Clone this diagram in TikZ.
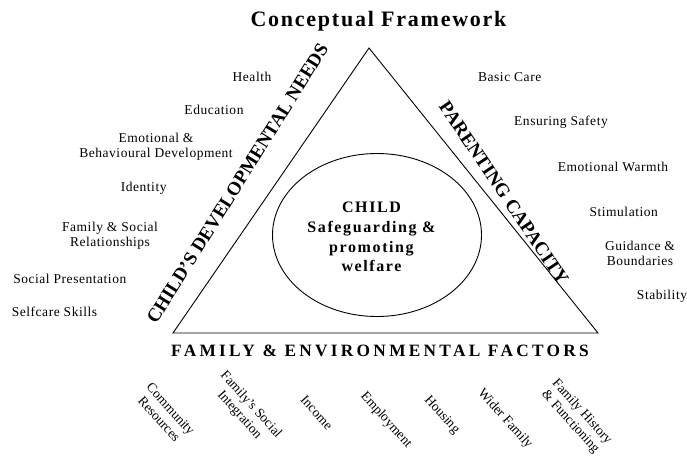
\documentclass[tikz,border=0pt]{standalone}
\usepackage{fontspec}
\setmainfont{Liberation Serif}
\newfontfamily\titlefont[LetterSpace=8]{Liberation Serif}
\newfontfamily\bottomfont[LetterSpace=19]{Liberation Serif}
\newfontfamily\centrefont[LetterSpace=10]{Liberation Serif}
\newfontfamily\itemfont[LetterSpace=4]{Liberation Serif}
\usetikzlibrary{shapes.geometric}
\tikzset{
  item/.style={inner sep=0pt, align=center, font=\itemfont\fontsize{13.5}{15.5}\selectfont},
  botitem/.style={inner sep=0pt, align=center, rotate=-48, font=\fontsize{13.5}{15.5}\selectfont},
  sidelabel/.style={inner sep=0pt, font=\bfseries\fontsize{19}{21}\selectfont},
  outline/.style={draw=black, line width=0.9pt}
}
\begin{document}
\begin{tikzpicture}[x=1pt,y=-1pt]
\useasboundingbox[fill=white] (0,0) rectangle (687,456);
% triangle
\coordinate (A) at (369,48);
\coordinate (B) at (173,333);
\coordinate (C) at (598,333);
\draw[outline, line join=miter] (A) -- (B) -- (C) -- cycle;
% ellipse
\node[outline, ellipse, minimum width=209, minimum height=163, inner sep=0pt] (child) at (377,235) {};
\node[inner sep=0pt, align=center, font=\centrefont\bfseries\fontsize{16}{19.7}\selectfont] (childtext) at (371.5,237) {CHILD\\Safeguarding \&\\promoting\\welfare};
% titles
\node[inner sep=0pt, font=\titlefont\bfseries\fontsize{22}{24}\selectfont] (title) at (378.5,21) {Conceptual Framework};
\node[inner sep=0pt, font=\bottomfont\bfseries\fontsize{17.3}{19}\selectfont] (bottom) at (380,351) {FAMILY \& ENVIRONMENTAL FACTORS};
% side labels
\node[sidelabel, rotate=58] (cdn) at (237.5,183.5) {CHILD'S DEVELOPMENTAL NEEDS};
\node[sidelabel, rotate=-56] (pc) at (504,193) {PARENTING CAPACITY};
% left items
\node[item] (health) at (252,77) {Health};
\node[item] (education) at (214,110) {Education};
\node[item] (emotional) at (156,146.5) {Emotional \&\\Behavioural Development};
\node[item] (identity) at (143.7,188.3) {Identity};
\node[item] (family) at (110,235.7) {Family \& Social\\Relationships};
\node[item] (socialpres) at (69.8,279) {Social Presentation};
\node[item] (selfcare) at (54.5,312.3) {Selfcare Skills};
% right items
\node[item] (basic) at (509.7,76.7) {Basic Care};
\node[item] (safety) at (561,122.3) {Ensuring Safety};
\node[item] (warmth) at (613,167.3) {Emotional Warmth};
\node[item] (stim) at (623.7,212.3) {Stimulation};
\node[item] (guidance) at (640,253.3) {Guidance \&\\Boundaries};
\node[item] (stability) at (662,296) {Stability};
% bottom items
\node[botitem] (community) at (165,414) {Community\\Resources};
\node[botitem] (integration) at (245,410) {Family's Social\\Integration};
\node[botitem] (income) at (316.7,412.5) {Income};
\node[botitem] (employment) at (386,420) {Employment};
\node[botitem] (housing) at (441.7,415) {Housing};
\node[botitem] (wider) at (505,419) {Wider Family};
\node[botitem] (history) at (576,417) {Family History\\\& Functioning};
\end{tikzpicture}
\end{document}
